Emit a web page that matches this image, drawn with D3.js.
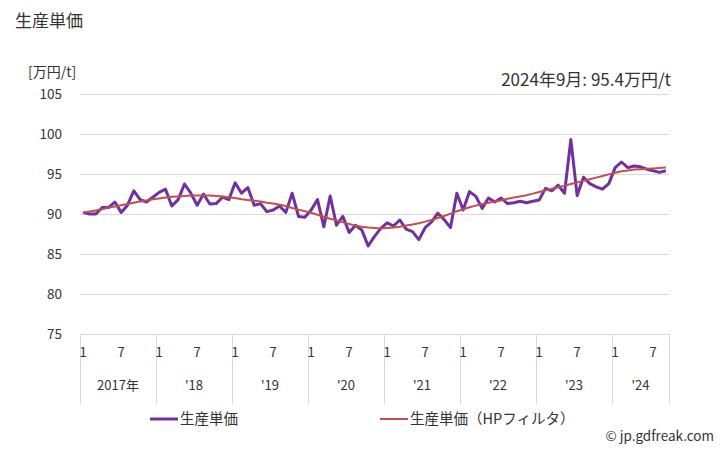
<!DOCTYPE html>
<html><head><meta charset="utf-8">
<script src="https://cdn.jsdelivr.net/npm/d3@7"></script>
<style>body{margin:0;background:#fff;}svg text{font-family:"Noto Sans CJK JP","Noto Sans",sans-serif;}</style>
</head><body><svg id="c" width="728" height="450"></svg>
<script>
const years = ["2017年","'18","'19","'20","'21","'22","'23","'24"];
const monthTicks = ["1","7"];
const yTicks = [75,80,85,90,95,100,105];
const price = [
90.2,90.0,90.0,90.8,90.8,91.5,90.2,91.1,92.9,91.8,91.5,92.1,
92.7,93.1,91.0,91.8,93.75,92.6,91.1,92.5,91.25,91.3,92.1,91.8,
93.9,92.6,93.3,91.1,91.3,90.3,90.5,91.0,90.2,92.6,89.7,89.6,
90.5,91.8,88.4,92.25,88.6,89.7,87.7,88.6,88.0,86.0,87.2,88.2,
88.9,88.5,89.25,88.1,87.8,86.8,88.3,89.0,90.1,89.3,88.3,92.6,
90.5,92.8,92.2,90.7,92.0,91.5,92.0,91.3,91.4,91.6,91.4,91.6,
91.75,93.2,92.9,93.6,92.6,99.3,92.3,94.6,93.8,93.4,93.1,93.8,
95.8,96.5,95.8,96.0,95.9,95.6,95.4,95.2,95.4];
const hp = [
90.2,90.3,90.45,90.6,90.8,90.95,91.1,91.25,91.4,91.55,91.7,91.85,
91.95,92.05,92.15,92.2,92.25,92.3,92.3,92.3,92.3,92.25,92.2,92.1,
92.0,91.85,91.75,91.65,91.55,91.4,91.3,91.15,91.0,90.75,90.55,90.35,
90.15,89.9,89.65,89.4,89.2,88.95,88.75,88.55,88.4,88.3,88.25,88.2,
88.25,88.3,88.4,88.55,88.7,88.85,89.05,89.25,89.5,89.75,90.05,90.35,
90.6,90.85,91.05,91.25,91.4,91.55,91.7,91.9,92.05,92.2,92.35,92.55,
92.75,92.95,93.15,93.35,93.55,93.75,93.95,94.15,94.35,94.55,94.75,94.95,
95.15,95.35,95.45,95.55,95.6,95.65,95.7,95.75,95.8];
const legendNames = ["生産単価","生産単価（HPフィルタ）"];
const titleText = "生産単価";
const unitText = "[万円/t]";
const latestText = "2024年9月: 95.4万円/t";
const creditText = "© jp.gdfreak.com";

const svg = d3.select("#c");
const L = 80, R = 669, T = 94, B = 334;
const idx = d3.range(price.length);
const x = d3.scaleBand().domain(idx).range([L, R]).padding(0);
const y = d3.scaleLinear().domain([75,105]).range([B, T]);
const cx = i => x(i) + x.bandwidth()/2;

// grid
svg.append("g").selectAll("line").data(yTicks).join("line")
  .attr("x1", L).attr("x2", R).attr("y1", d=>y(d)).attr("y2", d=>y(d))
  .attr("stroke", "#d9d9d9").attr("stroke-width", 1).attr("shape-rendering","crispEdges");
svg.append("g").selectAll("text").data(yTicks).join("text")
  .attr("x", 62).attr("y", d=>y(d)+5).attr("text-anchor","end")
  .attr("font-size", 13.5).attr("fill","#333").text(d=>d);

// x table
const yearStarts = years.map((_,k)=>k*12);
const bounds = yearStarts.concat([price.length]);
svg.append("g").selectAll("line").data(bounds).join("line")
  .attr("x1", d=> d < price.length ? x(d) : R).attr("x2", d=> d < price.length ? x(d) : R)
  .attr("y1", B).attr("y2", 404)
  .attr("stroke","#d9d9d9").attr("shape-rendering","crispEdges");
const mt = [];
yearStarts.forEach(s => { [0,6].forEach((o,j)=>{ if (s+o < price.length) mt.push({i:s+o, t:monthTicks[j]}); }); });
svg.append("g").selectAll("text").data(mt).join("text")
  .attr("x", d=>cx(d.i)).attr("y", 357).attr("text-anchor","middle")
  .attr("font-size", 13).attr("fill","#333").text(d=>d.t);
svg.append("g").selectAll("text").data(years).join("text")
  .attr("x", (d,k)=>{ const a = x(k*12); const b = (k+1)*12 < price.length ? x((k+1)*12) : R; return (a+b)/2; })
  .attr("y", 390).attr("text-anchor","middle")
  .attr("font-size", 13).attr("fill","#333").text(d=>d);

// lines
const line = d3.line().x((d,i)=>cx(i)).y(d=>y(d));
svg.append("path").datum(price).attr("d", line).attr("fill","none")
  .attr("stroke","#7030a0").attr("stroke-width",3).attr("stroke-linejoin","round");
svg.append("path").datum(hp).attr("d", line).attr("fill","none")
  .attr("stroke","#c0504d").attr("stroke-width",2).attr("stroke-linejoin","round");

// texts
svg.append("text").attr("x",15).attr("y",27).attr("font-size",17).attr("fill","#333").text(titleText);
svg.append("text").attr("x",28).attr("y",77).attr("font-size",14).attr("fill","#333").text(unitText);
svg.append("text").attr("x",671).attr("y",86).attr("text-anchor","end").attr("font-size",17).attr("fill","#333").text(latestText);

// legend
const lg = [{x:150, c:"#7030a0", w:3},{x:380, c:"#c0504d", w:2}];
lg.forEach((d,k)=>{
  svg.append("line").attr("x1",d.x).attr("x2",d.x+28).attr("y1",419).attr("y2",419).attr("stroke",d.c).attr("stroke-width",d.w);
  svg.append("text").attr("x",d.x+30).attr("y",424).attr("font-size",14.5).attr("fill","#333").text(legendNames[k]);
});
svg.append("text").attr("x",714).attr("y",441).attr("text-anchor","end").attr("font-size",13.5).attr("fill","#333").text(creditText);
</script></body></html>
